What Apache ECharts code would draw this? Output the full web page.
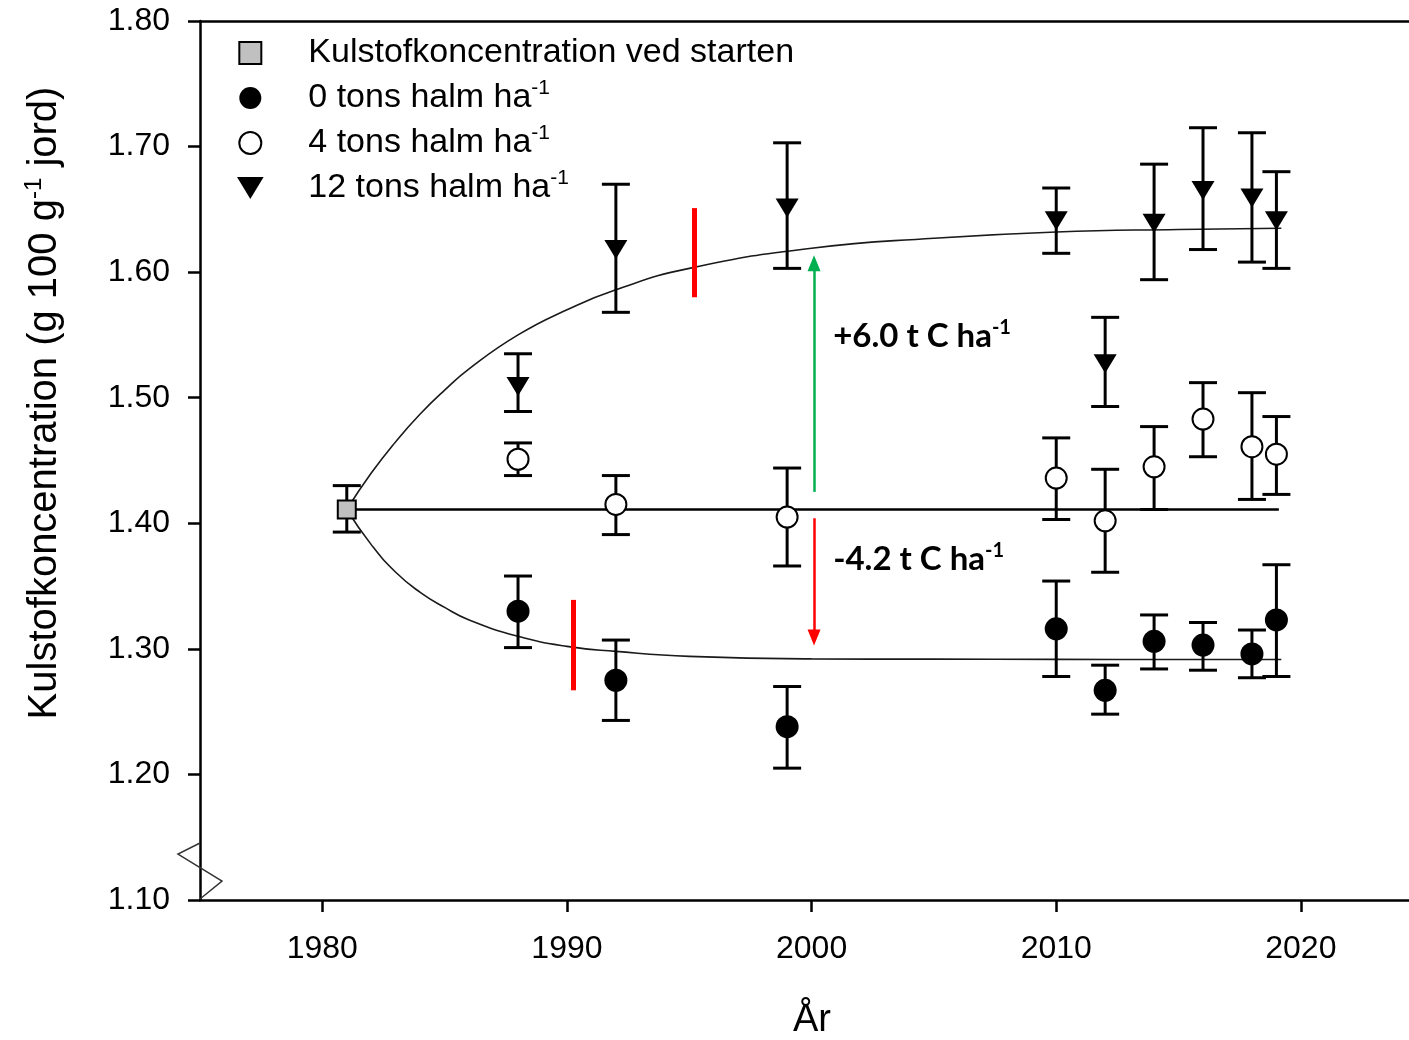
<!DOCTYPE html>
<html>
<head>
<meta charset="utf-8">
<script src="https://cdn.jsdelivr.net/npm/echarts@6/dist/echarts.min.js"></script>
<style>
html,body{margin:0;padding:0;background:#fff;}
#chart{width:1409px;height:1040px;}
</style>
</head>
<body>
<div id="chart"></div>
<script>
// ---------- data ----------
const xTickValues = [1980, 1990, 2000, 2010, 2020];
const yTickValues = [1.1, 1.2, 1.3, 1.4, 1.5, 1.6, 1.7, 1.8];

const startYear = [1981];
const startValue = [1.411];
const startLow = [1.393];
const startHigh = [1.430];

const years = [1988, 1992, 1999, 2010, 2012, 2014, 2016, 2018, 2019];

const t0Value = [1.330, 1.275, 1.238, 1.316, 1.267, 1.306, 1.303, 1.296, 1.323];
const t0Low   = [1.301, 1.243, 1.205, 1.278, 1.248, 1.284, 1.283, 1.277, 1.278];
const t0High  = [1.358, 1.307, 1.270, 1.354, 1.287, 1.327, 1.321, 1.315, 1.367];

const t4Value = [1.451, 1.415, 1.405, 1.436, 1.402, 1.445, 1.483, 1.461, 1.455];
const t4Low   = [1.438, 1.391, 1.366, 1.403, 1.361, 1.411, 1.453, 1.419, 1.423];
const t4High  = [1.464, 1.438, 1.444, 1.468, 1.443, 1.477, 1.512, 1.504, 1.485];

const t12Value = [1.509, 1.618, 1.651, 1.641, 1.527, 1.639, 1.665, 1.659, 1.641];
const t12Low   = [1.489, 1.568, 1.603, 1.615, 1.493, 1.594, 1.618, 1.608, 1.603];
const t12High  = [1.535, 1.670, 1.703, 1.667, 1.564, 1.686, 1.715, 1.711, 1.680];

// fitted curves
const curveYears = [1981, 1982, 1983, 1984, 1985, 1986, 1988, 1990, 1992, 1995, 2000, 2005, 2010, 2015, 2019.2];
const curve12 = [1.411, 1.440, 1.465, 1.487, 1.506, 1.523, 1.550, 1.570, 1.586, 1.603, 1.619, 1.627, 1.632, 1.634, 1.635];
const curve0  = [1.411, 1.383, 1.361, 1.345, 1.333, 1.323, 1.310, 1.302, 1.298, 1.294, 1.292, 1.2918, 1.2916, 1.2915, 1.2915];
const curve4Years = [1981, 2019.1];
const curve4 = [1.411, 1.411];

// annotations
const redBarYears = [1990.27, 1995.2];
const redBarLow = [1.267, 1.580];
const redBarHigh = [1.339, 1.651];
const arrowYear = 2000.1;
const gainArrow = [1.425, 1.607];   // from, to
const lossArrow = [1.404, 1.309];   // from, to
const annotYear = 2000.86;
const annotValues = [1.549, 1.371];
const annotTexts = ['+6.0 t C ha', '-4.2 t C ha'];

// axis break marker (zigzag) in data coordinates
const breakX = [1975, 1974.1, 1975.9, 1975];
const breakY = [1.1454, 1.1366, 1.1151, 1.1008];

const names = ['Kulstofkoncentration ved starten', '0 tons halm ha-1', '4 tons halm ha-1', '12 tons halm ha-1'];

// ---------- chart ----------
const FONT = 'Liberation Sans';
const triPath = 'path://M0,0L23,0L11.5,19Z';
const sqPath = 'path://M0,0L10,0L10,10L0,10Z';

function pairs(xs, ys) { return xs.map((x, i) => [x, ys[i]]); }

function errorBars(name, xs, lows, highs) {
  return {
    type: 'custom', name: name + ' err', z: 3, silent: true,
    data: xs.map((x, i) => [x, lows[i], highs[i]]),
    encode: { x: 0, y: [1, 2] },
    renderItem: function (params, api) {
      const x = api.value(0);
      const lo = api.coord([x, api.value(1)]);
      const hi = api.coord([x, api.value(2)]);
      const hw = 14;
      const st = { stroke: '#000', lineWidth: 3 };
      return {
        type: 'group', children: [
          { type: 'line', shape: { x1: lo[0], y1: lo[1], x2: hi[0], y2: hi[1] }, style: st },
          { type: 'line', shape: { x1: lo[0] - hw, y1: lo[1], x2: lo[0] + hw, y2: lo[1] }, style: st },
          { type: 'line', shape: { x1: hi[0] - hw, y1: hi[1], x2: hi[0] + hw, y2: hi[1] }, style: st }
        ]
      };
    }
  };
}

const supRich = {
  n: { fontSize: 34, lineHeight: 40, fontFamily: FONT, color: '#000' },
  s: { fontSize: 21, lineHeight: 22, verticalAlign: 'top', fontFamily: FONT, color: '#000' }
};

const chart = echarts.init(document.getElementById('chart'), null, { renderer: 'canvas' });

const yTitle = {
  type: 'text', x: 45, y: 403, rotation: Math.PI / 2, silent: true,
  style: {
    text: '{t|Kulstofkoncentration (g 100 g}{u|-1}{t| jord)}',
    rich: {
      t: { fontSize: 40, lineHeight: 46, fontFamily: FONT, fill: '#000' },
      u: { fontSize: 24, lineHeight: 24, verticalAlign: 'top', fontFamily: FONT, fill: '#000' }
    },
    align: 'center', verticalAlign: 'middle', fill: '#000'
  }
};
const xTitle = {
  type: 'text', x: 812, y: 1021, silent: true,
  style: { text: 'År', font: '38px "Liberation Sans"', fill: '#000', align: 'center', verticalAlign: 'middle' }
};

const option = {
  animation: false,
  backgroundColor: '#fff',
  textStyle: { fontFamily: FONT },
  grid: { left: 200, right: 0, top: 21, bottom: 140, containLabel: false },
  legend: {
    orient: 'vertical', left: 232, top: 28,
    itemWidth: 106, itemHeight: 22, itemGap: 5,
    selectedMode: false,
    data: [
      { name: names[0], icon: sqPath, itemStyle: { color: '#c0c0c0', borderColor: '#000', borderWidth: 2, opacity: 1 } },
      { name: names[1], itemStyle: { color: '#000', borderColor: '#000', borderWidth: 0, opacity: 1 } },
      { name: names[2], itemStyle: { color: '#fff', borderColor: '#000', borderWidth: 2, opacity: 1 } },
      { name: names[3], icon: triPath, itemStyle: { color: '#000', borderColor: '#000', borderWidth: 0, opacity: 1 } }
    ],
    formatter: function (n) {
      if (/ha-1$/.test(n)) return '{n|' + n.replace(/-1$/, '') + '}{s|-1}';
      return '{n|' + n + '}';
    },
    textStyle: { rich: supRich, fontSize: 34, lineHeight: 40, color: '#000' }
  },
  xAxis: [{
    type: 'value', min: 1975, max: 2024.42,
    axisLine: { show: true, onZero: false, lineStyle: { color: '#000', width: 2.5 } },
    axisTick: { show: true, inside: false, length: 12, lineStyle: { color: '#000', width: 2.5 }, customValues: xTickValues },
    axisLabel: { show: true, fontSize: 32, color: '#000', margin: 33, customValues: xTickValues, fontFamily: FONT, formatter: v => String(v) },
    splitLine: { show: false }
  }, {
    type: 'value', position: 'top', min: 1975, max: 2024.42,
    axisLine: { show: true, onZero: false, lineStyle: { color: '#000', width: 2.5 } },
    axisTick: { show: false }, axisLabel: { show: false }, splitLine: { show: false }
  }],
  yAxis: {
    type: 'value', min: 1.1, max: 1.8, interval: 0.1,
    axisLine: { show: true, onZero: false, lineStyle: { color: '#000', width: 2.5 } },
    axisTick: { show: true, inside: false, length: 12, lineStyle: { color: '#000', width: 2.5 } },
    axisLabel: { fontSize: 32, color: '#000', margin: 30, fontFamily: FONT, formatter: v => v.toFixed(2) },
    splitLine: { show: false }
  },
  graphic: [yTitle, xTitle],
  series: [
    // fitted curves
    {
      type: 'line', name: 'curve12', data: pairs(curveYears, curve12), smooth: 0.5,
      showSymbol: false, symbol: 'none', z: 2, silent: true,
      lineStyle: { color: '#1a1a1a', width: 1.6 }
    },
    {
      type: 'line', name: 'curve0', data: pairs(curveYears, curve0), smooth: 0.5,
      showSymbol: false, symbol: 'none', z: 2, silent: true,
      lineStyle: { color: '#1a1a1a', width: 1.6 }
    },
    {
      type: 'line', name: 'curve4', data: pairs(curve4Years, curve4),
      showSymbol: false, symbol: 'none', z: 2, silent: true,
      lineStyle: { color: '#000', width: 2.5 },
      markLine: {
        silent: true, symbol: ['none', 'none'], label: { show: false }, animation: false,
        data: [
          [{ coord: [redBarYears[0], redBarLow[0]], lineStyle: { color: '#ff0000', width: 5, type: 'solid' } }, { coord: [redBarYears[0], redBarHigh[0]] }],
          [{ coord: [redBarYears[1], redBarLow[1]], lineStyle: { color: '#ff0000', width: 5, type: 'solid' } }, { coord: [redBarYears[1], redBarHigh[1]] }],
          [{ coord: [arrowYear, gainArrow[0]], symbol: 'none', lineStyle: { color: '#00b050', width: 2.5, type: 'solid' } },
           { coord: [arrowYear, gainArrow[1]], symbol: 'triangle', symbolSize: [13, 16] }],
          [{ coord: [arrowYear, lossArrow[0]], symbol: 'none', lineStyle: { color: '#ff0000', width: 2.5, type: 'solid' } },
           { coord: [arrowYear, lossArrow[1]], symbol: 'triangle', symbolSize: [13, 16] }]
        ]
      }
    },
    // error bars
    errorBars(names[0], startYear, startLow, startHigh),
    errorBars(names[1], years, t0Low, t0High),
    errorBars(names[2], years, t4Low, t4High),
    errorBars(names[3], years, t12Low, t12High),
    // markers
    {
      type: 'scatter', name: names[0], data: pairs(startYear, startValue), z: 5,
      symbol: 'rect', symbolSize: 18,
      itemStyle: { color: '#c0c0c0', borderColor: '#000', borderWidth: 2, opacity: 1 }
    },
    {
      type: 'scatter', name: names[1], data: pairs(years, t0Value), z: 5,
      symbol: 'circle', symbolSize: 23,
      itemStyle: { color: '#000', opacity: 1 }
    },
    {
      type: 'scatter', name: names[2], data: pairs(years, t4Value), z: 5,
      symbol: 'circle', symbolSize: 21,
      itemStyle: { color: '#fff', borderColor: '#000', borderWidth: 2, opacity: 1 }
    },
    {
      type: 'scatter', name: names[3], data: pairs(years, t12Value), z: 5,
      symbol: triPath, symbolSize: [23, 19], symbolKeepAspect: false,
      itemStyle: { color: '#000', opacity: 1 }
    },
    // annotation texts
    {
      type: 'scatter', name: 'annot', z: 6, silent: true,
      data: annotValues.map((v, i) => [annotYear, v]),
      symbolSize: 1, itemStyle: { color: 'rgba(0,0,0,0)', opacity: 1 },
      label: {
        show: true, position: 'right', distance: 0,
        formatter: p => '{b|' + annotTexts[p.dataIndex] + '}{s|-1}',
        rich: {
          b: { fontSize: 33, lineHeight: 38, fontWeight: 'bold', fontFamily: 'Lato', color: '#000' },
          s: { fontSize: 20, lineHeight: 20, verticalAlign: 'top', fontWeight: 'bold', fontFamily: 'Lato', color: '#000' }
        }
      }
    }
  ]
};

chart.setOption(option);

// axis-break zigzag: positioned through the axis scales (drawn outside the grid clip)
const breakPts = breakX.map((x, i) => chart.convertToPixel({ gridIndex: 0 }, [x, breakY[i]]));
chart.setOption({
  graphic: [yTitle, xTitle, {
    type: 'polyline', silent: true, z: 10,
    shape: { points: breakPts },
    style: { stroke: '#333', lineWidth: 1.5, fill: null }
  }]
});
</script>
</body>
</html>
